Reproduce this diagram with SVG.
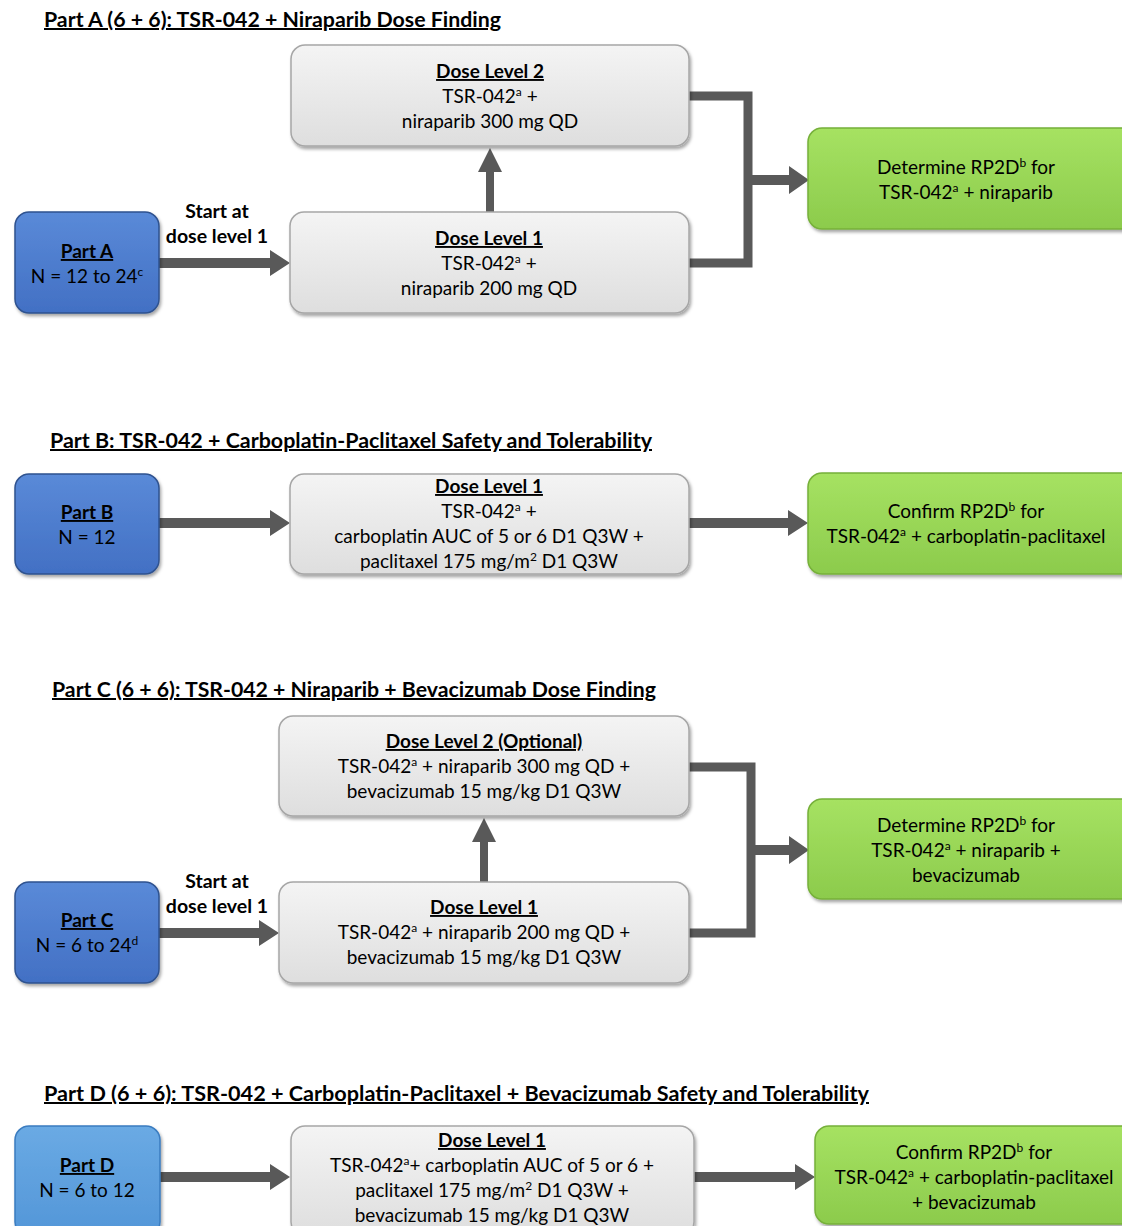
<svg xmlns="http://www.w3.org/2000/svg" width="1122" height="1226" viewBox="0 0 1122 1226">
<defs>
<linearGradient id="gGrey" x1="0" y1="0" x2="0" y2="1"><stop offset="0" stop-color="#f4f4f4"/><stop offset="1" stop-color="#dedede"/></linearGradient>
<linearGradient id="gBlue" x1="0" y1="0" x2="0" y2="1"><stop offset="0" stop-color="#5a8ad8"/><stop offset="1" stop-color="#4270c4"/></linearGradient>
<linearGradient id="gBlueL" x1="0" y1="0" x2="0" y2="1"><stop offset="0" stop-color="#6aaae4"/><stop offset="1" stop-color="#5396d8"/></linearGradient>
<linearGradient id="gGreen" x1="0" y1="0" x2="0" y2="1"><stop offset="0" stop-color="#a6e262"/><stop offset="1" stop-color="#8ccb4c"/></linearGradient>
<filter id="sh" x="-10%" y="-10%" width="120%" height="130%"><feDropShadow dx="1.5" dy="2.5" stdDeviation="1.5" flood-color="#000" flood-opacity="0.35"/></filter>
</defs>
<style>
text{font-family:Lato,"Open Sans","Liberation Sans",sans-serif;fill:#000;}
.t{font-size:20px;font-weight:bold;text-decoration:underline;}
.b{font-size:19px;text-anchor:middle;}
.h{font-size:19px;font-weight:bold;text-anchor:middle;text-decoration:underline;}
.l{font-size:19.5px;font-weight:bold;text-anchor:middle;}
.s{font-size:12px;}
.grey{fill:url(#gGrey);stroke:#a6a6a6;stroke-width:1.5;filter:url(#sh);}
.blue{fill:url(#gBlue);stroke:#2f528f;stroke-width:1.5;filter:url(#sh);}
.blueL{fill:url(#gBlueL);stroke:#3a7cc0;stroke-width:1.5;filter:url(#sh);}
.green{fill:url(#gGreen);stroke:#76b03a;stroke-width:1.5;filter:url(#sh);}
.arr{fill:#595959;}
.brk{fill:none;stroke:#595959;stroke-width:9;stroke-linejoin:miter;}
</style>

<!-- Titles -->
<text class="t" x="44" y="27" textLength="457" lengthAdjust="spacingAndGlyphs">Part A (6 + 6): TSR-042 + Niraparib Dose Finding</text>
<text class="t" x="50" y="448" textLength="602" lengthAdjust="spacingAndGlyphs">Part B: TSR-042 + Carboplatin-Paclitaxel Safety and Tolerability</text>
<text class="t" x="52" y="697" textLength="604" lengthAdjust="spacingAndGlyphs">Part C (6 + 6): TSR-042 + Niraparib + Bevacizumab Dose Finding</text>
<text class="t" x="44" y="1101" textLength="825" lengthAdjust="spacingAndGlyphs">Part D (6 + 6): TSR-042 + Carboplatin-Paclitaxel + Bevacizumab Safety and Tolerability</text>

<!-- Connectors -->
<g id="connectors">
<path class="arr" d="M159,258 H270 V250 L290,263 L270,276 V268 H159 Z"/>
<path class="arr" d="M486,212 V172 H478 L490,148 L502,172 H494 V212 Z"/>
<polyline class="brk" points="689,96 748,96 748,263 689,263"/>
<path class="arr" d="M748,175 H789 V166 L809,180 L789,194 V185 H748 Z"/>
<path class="arr" d="M159,518 H270 V510 L290,523 L270,536 V528 H159 Z"/>
<path class="arr" d="M689,518 H788 V510 L808,523 L788,536 V528 H689 Z"/>
<path class="arr" d="M159,928 H259 V920 L279,933 L259,946 V938 H159 Z"/>
<path class="arr" d="M480,882 V842 H472 L484,818 L496,842 H488 V882 Z"/>
<polyline class="brk" points="689,767 751,767 751,933 689,933"/>
<path class="arr" d="M751,845 H789 V836 L809,850 L789,864 V855 H751 Z"/>
<path class="arr" d="M160,1172 H270 V1164 L290,1177 L270,1190 V1182 H160 Z"/>
<path class="arr" d="M694,1172 H795 V1164 L815,1177 L795,1190 V1182 H694 Z"/>
<text class="l" x="217" y="218">Start at</text>
<text class="l" x="217" y="243">dose level 1</text>
<text class="l" x="217" y="888">Start at</text>
<text class="l" x="217" y="913">dose level 1</text>
</g>

<!-- Part A nodes -->
<g id="partA">
<rect class="blue" x="15" y="212" width="144" height="101" rx="14"/>
<text class="h" x="87" y="258">Part A</text>
<text class="b" x="87" y="283">N = 12 to 24<tspan class="s" dy="-7">c</tspan></text>
</g>
<g id="a_dl2">
<rect class="grey" x="291" y="45" width="398" height="101" rx="14"/>
<text class="h" x="490" y="78">Dose Level 2</text>
<text class="b" x="490" y="103">TSR-042<tspan class="s" dy="-7">a</tspan><tspan dy="7"> +</tspan></text>
<text class="b" x="490" y="128">niraparib 300 mg QD</text>
</g>
<g id="a_dl1">
<rect class="grey" x="290" y="212" width="399" height="101" rx="14"/>
<text class="h" x="489" y="245">Dose Level 1</text>
<text class="b" x="489" y="270">TSR-042<tspan class="s" dy="-7">a</tspan><tspan dy="7"> +</tspan></text>
<text class="b" x="489" y="295">niraparib 200 mg QD</text>
</g>
<g id="a_rp2d">
<rect class="green" x="808" y="128" width="330" height="101" rx="14"/>
<text class="b" x="966" y="174">Determine RP2D<tspan class="s" dy="-7">b</tspan><tspan dy="7"> for</tspan></text>
<text class="b" x="966" y="199">TSR-042<tspan class="s" dy="-7">a</tspan><tspan dy="7"> + niraparib</tspan></text>
</g>

<!-- Part B nodes -->
<g id="partB">
<rect class="blue" x="15" y="474" width="144" height="100" rx="14"/>
<text class="h" x="87" y="519">Part B</text>
<text class="b" x="87" y="544">N = 12</text>
</g>
<g id="b_dl1">
<rect class="grey" x="290" y="474" width="399" height="100" rx="14"/>
<text class="h" x="489" y="493">Dose Level 1</text>
<text class="b" x="489" y="518">TSR-042<tspan class="s" dy="-7">a</tspan><tspan dy="7"> +</tspan></text>
<text class="b" x="489" y="543">carboplatin AUC of 5 or 6 D1 Q3W +</text>
<text class="b" x="489" y="568">paclitaxel 175 mg/m<tspan class="s" dy="-7">2</tspan><tspan dy="7"> D1 Q3W</tspan></text>
</g>
<g id="b_rp2d">
<rect class="green" x="808" y="473" width="330" height="101" rx="14"/>
<text class="b" x="966" y="518">Confirm RP2D<tspan class="s" dy="-7">b</tspan><tspan dy="7"> for</tspan></text>
<text class="b" x="966" y="543">TSR-042<tspan class="s" dy="-7">a</tspan><tspan dy="7"> + carboplatin-paclitaxel</tspan></text>
</g>

<!-- Part C nodes -->
<g id="c_dl2">
<rect class="grey" x="279" y="716" width="410" height="100" rx="14"/>
<text class="h" x="484" y="748">Dose Level 2 (Optional)</text>
<text class="b" x="484" y="773">TSR-042<tspan class="s" dy="-7">a</tspan><tspan dy="7"> + niraparib 300 mg QD +</tspan></text>
<text class="b" x="484" y="798">bevacizumab 15 mg/kg D1 Q3W</text>
</g>
<g id="partC">
<rect class="blue" x="15" y="882" width="144" height="101" rx="14"/>
<text class="h" x="87" y="927">Part C</text>
<text class="b" x="87" y="952">N = 6 to 24<tspan class="s" dy="-7">d</tspan></text>
</g>
<g id="c_dl1">
<rect class="grey" x="279" y="882" width="410" height="101" rx="14"/>
<text class="h" x="484" y="914">Dose Level 1</text>
<text class="b" x="484" y="939">TSR-042<tspan class="s" dy="-7">a</tspan><tspan dy="7"> + niraparib 200 mg QD +</tspan></text>
<text class="b" x="484" y="964">bevacizumab 15 mg/kg D1 Q3W</text>
</g>
<g id="c_rp2d">
<rect class="green" x="808" y="799" width="330" height="100" rx="14"/>
<text class="b" x="966" y="832">Determine RP2D<tspan class="s" dy="-7">b</tspan><tspan dy="7"> for</tspan></text>
<text class="b" x="966" y="857">TSR-042<tspan class="s" dy="-7">a</tspan><tspan dy="7"> + niraparib +</tspan></text>
<text class="b" x="966" y="882">bevacizumab</text>
</g>

<!-- Part D nodes -->
<g id="partD">
<rect class="blueL" x="15" y="1126" width="145" height="110" rx="14"/>
<text class="h" x="87" y="1172">Part D</text>
<text class="b" x="87" y="1197">N = 6 to 12</text>
</g>
<g id="d_dl1">
<rect class="grey" x="291" y="1126" width="403" height="110" rx="14"/>
<text class="h" x="492" y="1147">Dose Level 1</text>
<text class="b" x="492" y="1172">TSR-042<tspan class="s" dy="-7">a</tspan><tspan dy="7">+ carboplatin AUC of 5 or 6 +</tspan></text>
<text class="b" x="492" y="1197">paclitaxel 175 mg/m<tspan class="s" dy="-7">2</tspan><tspan dy="7"> D1 Q3W +</tspan></text>
<text class="b" x="492" y="1222">bevacizumab 15 mg/kg D1 Q3W</text>
</g>
<g id="d_rp2d">
<rect class="green" x="815" y="1126" width="323" height="98" rx="14"/>
<text class="b" x="974" y="1159">Confirm RP2D<tspan class="s" dy="-7">b</tspan><tspan dy="7"> for</tspan></text>
<text class="b" x="974" y="1184">TSR-042<tspan class="s" dy="-7">a</tspan><tspan dy="7"> + carboplatin-paclitaxel</tspan></text>
<text class="b" x="974" y="1209">+ bevacizumab</text>
</g>
</svg>
